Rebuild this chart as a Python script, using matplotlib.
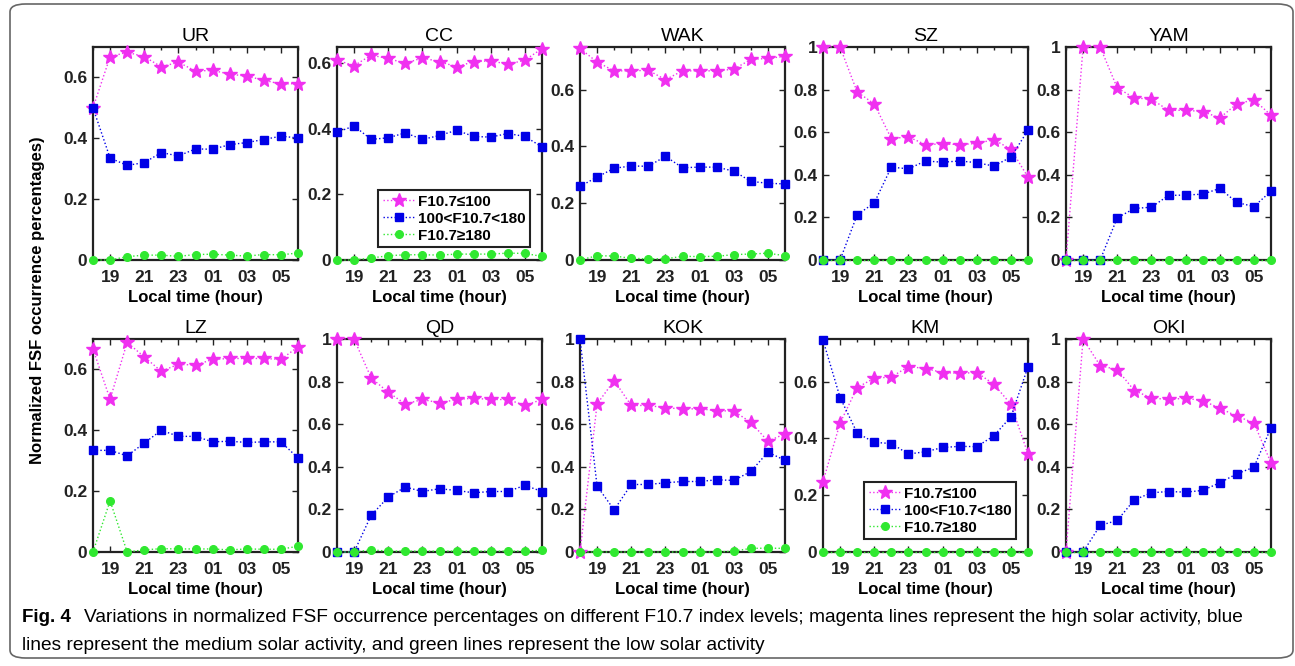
import matplotlib
matplotlib.use("Agg")
import matplotlib.pyplot as plt
from matplotlib.patches import FancyBboxPatch
import numpy as np

plt.rcParams['font.family'] = ['Liberation Sans', 'DejaVu Sans']

# ---- data ----
hours = [18, 19, 20, 21, 22, 23, 24, 25, 26, 27, 28, 29, 30]
tick_pos = [19, 21, 23, 25, 27, 29]
tick_labels = ['19', '21', '23', '01', '03', '05']
stations = ['UR', 'CC', 'WAK', 'SZ', 'YAM', 'LZ', 'QD', 'KOK', 'KM', 'OKI']
series_labels = ['F10.7≤100', '100<F10.7<180', 'F10.7≥180']

UR_low = [0.50, 0.668, 0.683, 0.668, 0.635, 0.65, 0.621, 0.623, 0.611, 0.604, 0.591, 0.578, 0.58]
UR_mid = [0.50, 0.335, 0.311, 0.32, 0.353, 0.342, 0.365, 0.364, 0.379, 0.386, 0.396, 0.407, 0.401]
UR_high = [0.0, 0.0, 0.011, 0.016, 0.016, 0.012, 0.018, 0.019, 0.016, 0.013, 0.018, 0.017, 0.023]

CC_low = [0.61, 0.593, 0.625, 0.615, 0.60, 0.617, 0.605, 0.59, 0.605, 0.608, 0.597, 0.61, 0.645]
CC_mid = [0.39, 0.409, 0.368, 0.373, 0.388, 0.368, 0.38, 0.396, 0.377, 0.375, 0.386, 0.377, 0.345]
CC_high = [0.0, 0.0, 0.006, 0.013, 0.016, 0.016, 0.015, 0.018, 0.018, 0.018, 0.021, 0.02, 0.011]

WAK_low = [0.745, 0.697, 0.666, 0.666, 0.668, 0.635, 0.666, 0.666, 0.666, 0.672, 0.706, 0.71, 0.717]
WAK_mid = [0.259, 0.292, 0.323, 0.331, 0.33, 0.365, 0.325, 0.327, 0.327, 0.313, 0.277, 0.27, 0.268]
WAK_high = [0.0, 0.015, 0.014, 0.006, 0.004, 0.004, 0.013, 0.012, 0.013, 0.019, 0.021, 0.024, 0.015]

SZ_low = [1.0, 1.0, 0.789, 0.733, 0.57, 0.578, 0.542, 0.545, 0.542, 0.547, 0.565, 0.52, 0.389]
SZ_mid = [0.0, 0.0, 0.212, 0.268, 0.436, 0.428, 0.465, 0.459, 0.465, 0.457, 0.441, 0.483, 0.609]
SZ_high = [0.0] * 13

YAM_low = [0.0, 1.0, 1.0, 0.808, 0.761, 0.755, 0.703, 0.703, 0.697, 0.667, 0.733, 0.752, 0.68]
YAM_mid = [0.0, 0.0, 0.0, 0.198, 0.242, 0.248, 0.303, 0.305, 0.309, 0.336, 0.27, 0.251, 0.323]
YAM_high = [0.0] * 13

LZ_low = [0.667, 0.502, 0.689, 0.641, 0.594, 0.617, 0.614, 0.633, 0.636, 0.636, 0.636, 0.633, 0.674]
LZ_mid = [0.334, 0.334, 0.316, 0.358, 0.40, 0.38, 0.38, 0.362, 0.364, 0.36, 0.362, 0.362, 0.309]
LZ_high = [0.0, 0.168, 0.0, 0.007, 0.011, 0.01, 0.01, 0.01, 0.007, 0.01, 0.009, 0.009, 0.019]

QD_low = [1.0, 1.0, 0.817, 0.75, 0.695, 0.716, 0.70, 0.716, 0.722, 0.716, 0.716, 0.688, 0.716]
QD_mid = [0.0, 0.0, 0.172, 0.258, 0.305, 0.284, 0.297, 0.289, 0.278, 0.284, 0.284, 0.313, 0.284]
QD_high = [0.0, 0.0, 0.01, 0.004, 0.004, 0.004, 0.004, 0.004, 0.004, 0.004, 0.004, 0.004, 0.008]

KOK_low = [0.0, 0.695, 0.805, 0.688, 0.688, 0.677, 0.672, 0.672, 0.664, 0.661, 0.609, 0.52, 0.555]
KOK_mid = [1.0, 0.309, 0.198, 0.317, 0.317, 0.325, 0.331, 0.331, 0.339, 0.336, 0.378, 0.469, 0.43]
KOK_high = [0.0, 0.0, 0.0, 0.0, 0.0, 0.0, 0.0, 0.0, 0.0, 0.004, 0.017, 0.018, 0.017]

KM_low = [0.248, 0.454, 0.579, 0.612, 0.616, 0.653, 0.646, 0.632, 0.629, 0.632, 0.591, 0.52, 0.345]
KM_mid = [0.746, 0.544, 0.419, 0.386, 0.382, 0.345, 0.353, 0.368, 0.372, 0.371, 0.409, 0.476, 0.652]
KM_high = [0.0] * 13

OKI_low = [0.0, 1.0, 0.875, 0.856, 0.758, 0.723, 0.716, 0.722, 0.711, 0.675, 0.638, 0.606, 0.419]
OKI_mid = [0.0, 0.0, 0.125, 0.148, 0.245, 0.278, 0.284, 0.281, 0.289, 0.325, 0.367, 0.398, 0.583]
OKI_high = [0.0] * 13

ylims = [0.7, 0.65, 0.75, 1.0, 1.0, 0.7, 1.0, 1.0, 0.75, 1.0]
data = {
    'UR': (UR_low, UR_mid, UR_high), 'CC': (CC_low, CC_mid, CC_high),
    'WAK': (WAK_low, WAK_mid, WAK_high), 'SZ': (SZ_low, SZ_mid, SZ_high),
    'YAM': (YAM_low, YAM_mid, YAM_high), 'LZ': (LZ_low, LZ_mid, LZ_high),
    'QD': (QD_low, QD_mid, QD_high), 'KOK': (KOK_low, KOK_mid, KOK_high),
    'KM': (KM_low, KM_mid, KM_high), 'OKI': (OKI_low, OKI_mid, OKI_high),
}

# ---- layout ----
W, H = 1295, 666
fig = plt.figure(figsize=(W / 100, H / 100), dpi=100)

# border
fig.patches.append(FancyBboxPatch((10 / W, 8 / H), 1283 / W, 654 / H,
                                  boxstyle="round,pad=0,rounding_size=0.012",
                                  transform=fig.transFigure, fill=False,
                                  ec='#666666', lw=1.2))

lefts = [93, 337, 580, 823, 1066]
tops = [47, 339]
aw, ah = 205, 213

colors = ['#f030f0', '#0000e6', '#30e830']
markers = ['*', 's', 'o']
msizes = [10.5, 6, 5.5]

for i, st in enumerate(stations):
    r, c = divmod(i, 5)
    L = lefts[c]
    T = tops[r]
    ax = fig.add_axes([L / W, 1 - (T + ah) / H, aw / W, ah / H])
    for k in range(3):
        ax.plot(hours, data[st][k], linestyle=':', lw=1.0, color=colors[k],
                marker=markers[k], ms=msizes[k], mec=colors[k], mfc=colors[k],
                label=series_labels[k], clip_on=False, zorder=3)
    ax.set_xlim(18, 30)
    ax.set_ylim(0, ylims[i])
    ax.set_xticks(tick_pos)
    ax.set_xticklabels(tick_labels)
    ax.set_xticks(hours, minor=True)
    yt = [0, 0.2, 0.4, 0.6, 0.8, 1.0]
    yt = [v for v in yt if v <= ylims[i] + 1e-9]
    ax.set_yticks(yt)
    ax.set_yticklabels(['0' if v == 0 else ('1' if v == 1 else f'{v:.1f}') for v in yt])
    ax.tick_params(which='both', direction='in', top=True, right=True,
                   colors='#222222', labelsize=12.5, width=1.0)
    ax.tick_params(which='major', length=4)
    ax.tick_params(axis='x', which='major', pad=7.5)
    ax.tick_params(axis='y', which='major', pad=4)
    ax.tick_params(which='minor', length=2.5)
    for lab in ax.get_xticklabels() + ax.get_yticklabels():
        lab.set_fontweight('bold')
    for sp in ax.spines.values():
        sp.set_linewidth(1.6)
        sp.set_color('#222222')
    ax.set_title(st, fontsize=14, pad=4)
    ax.set_xlabel('Local time (hour)', fontsize=12, fontweight='bold', labelpad=3)
    if st in ('CC', 'KM'):
        leg = ax.legend(loc='lower left', bbox_to_anchor=(0.2, 0.06),
                        prop={'weight': 'bold', 'size': 11},
                        fancybox=False, edgecolor='#222222', framealpha=1,
                        handlelength=2.1, borderpad=0.3, labelspacing=0.2,
                        handletextpad=0.2, borderaxespad=0)
        leg.get_frame().set_linewidth(1.5)

fig.text(38 / W, 1 - 300 / H, 'Normalized FSF occurrence percentages)',
         rotation=90, ha='center', va='center', fontsize=12, fontweight='bold')

# caption
cap_family = ['Liberation Sans Narrow', 'Liberation Sans', 'DejaVu Sans']
fig.text(22 / W, 1 - 618 / H, 'Fig. 4', fontsize=13.5, fontweight='bold',
         family=cap_family, va='center', ha='left')
fig.text(84 / W, 1 - 618 / H,
         'Variations in normalized FSF occurrence percentages on different F10.7 index levels; '
         'magenta lines represent the high solar activity, blue',
         fontsize=13.8, family=cap_family, va='center', ha='left')
fig.text(22 / W, 1 - 646 / H,
         'lines represent the medium solar activity, and green lines represent the low solar activity',
         fontsize=13.8, family=cap_family, va='center', ha='left')

fig.savefig('out.png', dpi=100)
